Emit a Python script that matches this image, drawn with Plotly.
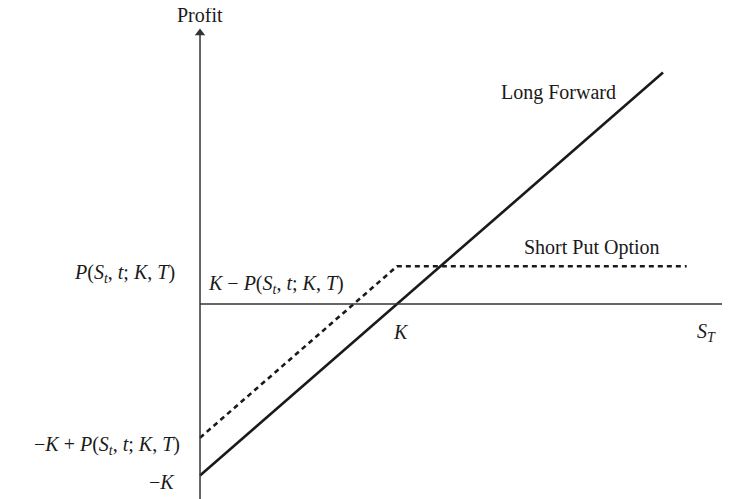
import plotly.graph_objects as go

# ---- data ----
K = 100
P = 22
st_forward = [0, 235]
profit_forward = [-K, 135]
st_put = [0, K, 247]
profit_put = [-K + P, P, P]

series_names = ["Long Forward", "Short Put Option"]

x_axis_end = 269
y_axis_top = 158
y_axis_bottom = -114

FONT = "Liberation Serif"
FS = 20
COL = "#1a1a1a"
AXC = "#333333"

fig = go.Figure()
fig.add_trace(go.Scatter(x=st_forward, y=profit_forward, mode="lines",
                         line=dict(color=COL, width=2.6), hoverinfo="skip",
                         showlegend=False))
fig.add_trace(go.Scatter(x=st_put, y=profit_put, mode="lines",
                         line=dict(color=COL, width=2.6, dash="5px,4px"),
                         hoverinfo="skip", showlegend=False))

# axis lines
shapes = [
    dict(type="line", x0=0, y0=0, x1=x_axis_end, y1=0, xref="x", yref="y",
         line=dict(color=AXC, width=1.5)),
    dict(type="line", x0=0, y0=y_axis_bottom, x1=0, y1=y_axis_top, xref="x", yref="y",
         line=dict(color=AXC, width=1.5)),
]
# arrowheads
fig.add_trace(go.Scatter(x=[0], y=[y_axis_top], mode="markers",
                         marker=dict(symbol="triangle-up", size=9, color=AXC),
                         hoverinfo="skip", showlegend=False))
fig.add_trace(go.Scatter(x=[267.5], y=[0], mode="markers",
                         marker=dict(symbol="triangle-right", size=9, color=AXC),
                         hoverinfo="skip", showlegend=False))

ann = []

def label(text, x, y, xanchor="center", xshift=0, yshift=0):
    ann.append(dict(x=x, y=y, xref="x", yref="y", text=text, showarrow=False,
                    xanchor=xanchor, yanchor="middle", xshift=xshift, yshift=yshift,
                    font=dict(family=FONT, size=FS, color=COL)))

put_txt = "<i>P</i>(<i>S<sub>t</sub></i>, <i>t</i>; <i>K</i>, <i>T</i>)"
label("Profit", 0, 161, yshift=13)
label(put_txt, 0, P, xanchor="right", xshift=-23, yshift=-7)
label("<i>K</i> \u2212 " + put_txt, 0, 0, xanchor="left", xshift=6, yshift=20)
label("\u2212<i>K</i> + " + put_txt, 0, -K + P, xanchor="right", xshift=-18, yshift=-8)
label("\u2212<i>K</i>", 0, -K, xanchor="right", xshift=-23, yshift=-6)
label("<i>K</i>", K, 0, xshift=4, yshift=-28)
label("<i>S<sub>T</sub></i>", 257, 0, yshift=-28)
label(series_names[0], 182, 123.6)
label(series_names[1], 199, 32.7)

# page body has an 8px margin: figure is 722x491 and ranges map to the 730x499 window
fig.update_layout(
    width=722, height=491,
    margin=dict(l=0, r=0, t=0, b=0),
    paper_bgcolor="white", plot_bgcolor="white",
    xaxis=dict(range=[-97.46, 269.0], visible=False, fixedrange=True),
    yaxis=dict(range=[-113.7, 172.6], visible=False, fixedrange=True),
    annotations=ann,
    shapes=shapes,
    showlegend=False,
)

fig.write_html("out.html")
